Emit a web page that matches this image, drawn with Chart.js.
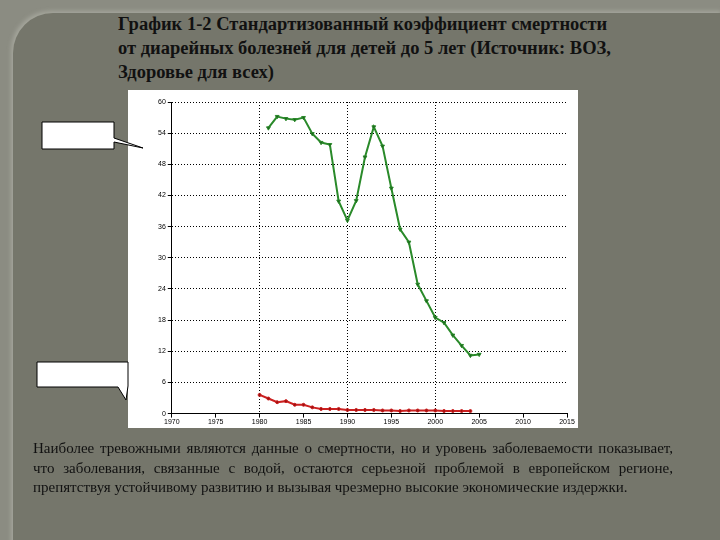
<!DOCTYPE html>
<html><head><meta charset="utf-8">
<script src="https://cdn.jsdelivr.net/npm/chart.js@4.4.0/dist/chart.umd.min.js"></script>
<style>
body{margin:0;width:720px;height:540px;background:#8b8c82;position:relative;overflow:hidden;font-family:"Liberation Serif",serif}
#panel{position:absolute;left:13px;top:13px;width:710px;height:540px;background:#75766b;border-top-left-radius:40px;box-shadow:-2px -2px 4px #a5a69c}
#title{position:absolute;left:118px;top:12px;font-family:"Liberation Serif",serif;font-weight:bold;font-size:18.5px;line-height:24px;color:#111}
#box{position:absolute;left:128px;top:90px;width:450px;height:338px;background:#fff}
#txt{position:absolute;left:33px;top:439px;width:640px;font-family:"Liberation Serif",serif;font-size:15px;line-height:19.5px;text-align:justify;color:#111}
</style></head><body>
<div id="panel"></div>
<div id="title">График 1-2 Стандартизованный коэффициент смертности<br>от диарейных болезней для детей до 5 лет (Источник: ВОЗ,<br>Здоровье для всех)</div>
<div id="box"><canvas id="c" width="450" height="338"></canvas></div>
<svg style="position:absolute;left:0;top:0" width="720" height="540">
<polygon points="42,122 114,122 114,138 143,148 114,142 114,149 42,149" fill="#fff" stroke="#000" stroke-width="1"/>
<polygon points="37,362 128,362 128,386 126,400 118,387 37,387" fill="#fff" stroke="#000" stroke-width="1"/>
</svg>
<div id="txt">Наиболее тревожными являются данные о смертности, но и уровень заболеваемости показывает, что заболевания, связанные с водой, остаются серьезной проблемой в европейском регионе, препятствуя устойчивому развитию и вызывая чрезмерно высокие экономические издержки.</div>
<script>
const yearsGreen=[1981,1982,1983,1984,1985,1986,1987,1988,1989,1990,1991,1992,1993,1994,1995,1996,1997,1998,1999,2000,2001,2002,2003,2004,2005];
const green=[55.0,57.2,56.8,56.6,57.0,53.9,52.2,51.8,40.9,37.2,41.0,49.4,55.2,51.5,43.4,35.5,33.0,24.9,21.7,18.5,17.5,15.1,13.1,11.2,11.4];
const yearsRed=[1980,1981,1982,1983,1984,1985,1986,1987,1988,1989,1990,1991,1992,1993,1994,1995,1996,1997,1998,1999,2000,2001,2002,2003,2004];
const red=[3.6,2.9,2.2,2.4,1.7,1.7,1.2,0.9,0.9,0.9,0.7,0.7,0.7,0.7,0.6,0.6,0.5,0.6,0.6,0.6,0.6,0.5,0.5,0.5,0.5];
const xTicks=[1970,1975,1980,1985,1990,1995,2000,2005,2010,2015];
const yTicks=[0,6,12,18,24,30,36,42,48,54,60];
const pts=(xs,ys)=>xs.map((x,i)=>({x,y:ys[i]}));
new Chart(document.getElementById('c'),{type:'scatter',
data:{datasets:[
{data:pts(yearsGreen,green),showLine:true,borderColor:'#2a8a2a',backgroundColor:'#1e5e1e',borderWidth:2,pointStyle:'triangle',rotation:180,pointRadius:2.2,pointBorderWidth:1},
{data:pts(yearsRed,red),showLine:true,borderColor:'#cc2020',backgroundColor:'#991010',borderWidth:2,pointRadius:1.5,pointBorderWidth:1}
]},
options:{responsive:false,animation:false,plugins:{legend:{display:false},tooltip:{enabled:false}},
layout:{padding:{left:28,right:11,top:12,bottom:2}},
scales:{
x:{type:'linear',min:1970,max:2015,afterBuildTicks:a=>{a.ticks=xTicks.map(v=>({value:v}))},
ticks:{font:{size:7},color:'#000',maxRotation:0,padding:0,callback:v=>String(v)},
grid:{color:c=>[1980,1990,2000].includes(c.tick.value)?'#000':'rgba(0,0,0,0)',lineWidth:1,tickLength:4,tickColor:'#000'},border:{color:'#000',dash:[1,2]}},
y:{min:0,max:60,afterBuildTicks:a=>{a.ticks=yTicks.map(v=>({value:v}))},
ticks:{font:{size:7},color:'#000',padding:2},
grid:{color:c=>c.tick.value===0?'rgba(0,0,0,0)':'#000',lineWidth:1,tickLength:4,tickColor:'#000'},border:{color:'#000',dash:[1,2]}}
}}});
</script>
</body></html>
